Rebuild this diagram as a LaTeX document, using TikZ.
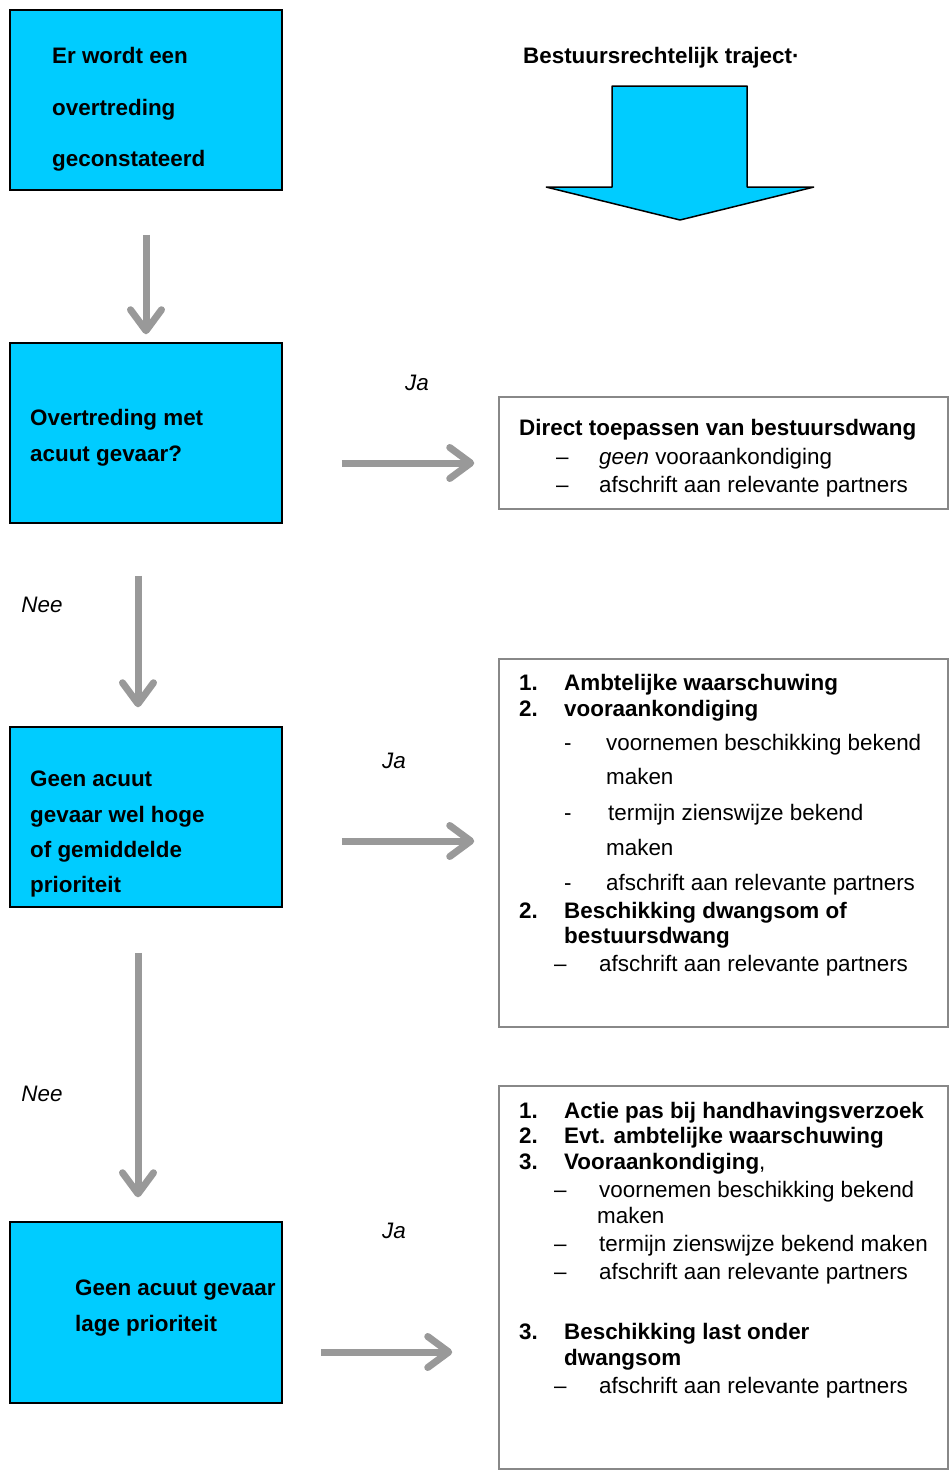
\documentclass[tikz,border=0pt]{standalone}
\usepackage{fontspec}
\setmainfont{Liberation Sans}
\usepackage{xcolor}
\usepackage{tikz}
\usetikzlibrary{arrows.meta}
\definecolor{flowBlue}{RGB}{0,204,255}
\definecolor{flowGrey}{RGB}{153,153,153}
\definecolor{frameGrey}{RGB}{136,136,136}
\tikzstyle{tsText} = [
    text=black,
    font=\fontsize{22.4}{28}\selectfont,
    inner sep=0pt,
    anchor=base west
]
\tikzstyle{tsBold} = [
    tsText,
    font=\fontsize{22.4}{28}\selectfont\bfseries
]
\tikzstyle{tsLabel} = [
    tsText,
    font=\fontsize{22.4}{28}\selectfont\itshape,
    anchor=base
]
\tikzstyle{tsBlueBox} = [
    rectangle,
    draw=black,
    fill=flowBlue,
    line width=1.5pt,
    inner sep=0pt,
    minimum width=272pt,
    minimum height=180pt
]
\tikzstyle{tsGreyBox} = [
    rectangle,
    draw=frameGrey,
    line width=1.5pt,
    inner sep=0pt,
    minimum width=449pt
]
\tikzstyle{tsFlow} = [
    draw=flowGrey,
    line width=7pt,
    -{Straight Barb[length=21pt,width=31pt,line cap=round,line join=round]}
]

\begin{document}
\begin{tikzpicture}[x=1pt, y=-1pt]

        \useasboundingbox (0,0) rectangle (950,1470);

        % blue boxes on the left
        \node[tsBlueBox] (obs) at (146,100) { };
        \node[tsBlueBox] (qAcuut) at (146,433) { };
        \node[tsBlueBox] (qHoog) at (146,817) { };
        \node[tsBlueBox, minimum height=181pt] (qLaag) at (146,1312.5) { };

        \node[tsBold] (obsA) at (52,63) {Er wordt een};
        \node[tsBold] (obsB) at (52,115) {overtreding};
        \node[tsBold] (obsC) at (52,166) {geconstateerd};

        \node[tsBold] (qAcuutA) at (30,425) {Overtreding met};
        \node[tsBold] (qAcuutB) at (30,461) {acuut gevaar?};

        \node[tsBold] (qHoogA) at (30,786) {Geen acuut};
        \node[tsBold] (qHoogB) at (30,822) {gevaar wel hoge};
        \node[tsBold] (qHoogC) at (30,857) {of gemiddelde};
        \node[tsBold] (qHoogD) at (30,892) {prioriteit};

        \node[tsBold] (qLaagA) at (75,1295) {Geen acuut gevaar};
        \node[tsBold] (qLaagB) at (75,1331) {lage prioriteit};

        % title and big arrow
        \node[tsBold] (title) at (523,63) {Bestuursrechtelijk traject\textperiodcentered};
        \draw[black, line width=1.5pt, fill=flowBlue, line join=bevel]
            (612,86) -- (747,86) -- (747,187) -- (814,187) -- (680,220)
            -- (546,187) -- (612,187) -- cycle;

        % grey boxes on the right
        \node[tsGreyBox, minimum height=112pt] (rDirect) at (723.5,453) { };
        \node[tsGreyBox, minimum height=368pt] (rHoog) at (723.5,843) { };
        \node[tsGreyBox, minimum height=383pt] (rLaag) at (723.5,1277.5) { };

        \node[tsBold] (rDirectA) at (519,435) {Direct toepassen van bestuursdwang};
        \node[tsText] (rDirectB) at (556,464) {--};
        \node[tsText] (rDirectC) at (599,464) {\textit{geen} vooraankondiging};
        \node[tsText] (rDirectD) at (556,492) {--};
        \node[tsText] (rDirectE) at (599,492) {afschrift aan relevante partners};

        \node[tsBold] (rHoogA) at (519,690) {1.};
        \node[tsBold] (rHoogB) at (564,690) {Ambtelijke waarschuwing};
        \node[tsBold] (rHoogC) at (519,716) {2.};
        \node[tsBold] (rHoogD) at (564,716) {vooraankondiging};
        \node[tsText] (rHoogE) at (564,750) {-};
        \node[tsText] (rHoogF) at (606,750) {voornemen beschikking bekend};
        \node[tsText] (rHoogG) at (606,784) {maken};
        \node[tsText] (rHoogH) at (564,820) {-};
        \node[tsText] (rHoogI) at (608,820) {termijn zienswijze bekend};
        \node[tsText] (rHoogJ) at (606,855) {maken};
        \node[tsText] (rHoogK) at (564,890) {-};
        \node[tsText] (rHoogL) at (606,890) {afschrift aan relevante partners};
        \node[tsBold] (rHoogM) at (519,918) {2.};
        \node[tsBold] (rHoogN) at (564,918) {Beschikking dwangsom of};
        \node[tsBold] (rHoogO) at (564,943) {bestuursdwang};
        \node[tsText] (rHoogP) at (554,971) {--};
        \node[tsText] (rHoogQ) at (599,971) {afschrift aan relevante partners};

        \node[tsBold] (rLaagA) at (519,1118) {1.};
        \node[tsBold] (rLaagB) at (564,1118) {Actie pas bij handhavingsverzoek};
        \node[tsBold] (rLaagC) at (519,1143) {2.};
        \node[tsBold] (rLaagD) at (564,1143) {Evt. ambtelijke waarschuwing};
        \node[tsBold] (rLaagE) at (519,1169) {3.};
        \node[tsText] (rLaagF) at (564,1169) {\textbf{Vooraankondiging},};
        \node[tsText] (rLaagG) at (554,1197) {--};
        \node[tsText] (rLaagH) at (599,1197) {voornemen beschikking bekend};
        \node[tsText] (rLaagI) at (597,1223) {maken};
        \node[tsText] (rLaagJ) at (554,1251) {--};
        \node[tsText] (rLaagK) at (599,1251) {termijn zienswijze bekend maken};
        \node[tsText] (rLaagL) at (554,1279) {--};
        \node[tsText] (rLaagM) at (599,1279) {afschrift aan relevante partners};
        \node[tsBold] (rLaagN) at (519,1339) {3.};
        \node[tsBold] (rLaagO) at (564,1339) {Beschikking last onder};
        \node[tsBold] (rLaagP) at (564,1365) {dwangsom};
        \node[tsText] (rLaagQ) at (554,1393) {--};
        \node[tsText] (rLaagR) at (599,1393) {afschrift aan relevante partners};

        % labels
        \node[tsLabel] (ja1) at (417,390) {Ja};
        \node[tsLabel] (ja2) at (394,768) {Ja};
        \node[tsLabel] (ja3) at (394,1238) {Ja};
        \node[tsLabel] (nee1) at (42,612) {Nee};
        \node[tsLabel] (nee2) at (42,1101) {Nee};

        % grey flow arrows
        \draw[tsFlow, shorten <=44pt, shorten >=8pt] (obs.south) -- (qAcuut.north);
        \draw[tsFlow, shorten <=52pt, shorten >=19pt]
            ([xshift=-8pt]qAcuut.south) -- ([xshift=-8pt]qHoog.north);
        \draw[tsFlow, shorten <=45pt, shorten >=24pt]
            ([xshift=-8pt]qHoog.south) -- ([xshift=-8pt]qLaag.north);
        \draw[tsFlow, shorten <=59pt, shorten >=24pt]
            ([yshift=-30pt]qAcuut.east) -- ([yshift=-10pt]rDirect.west);
        \draw[tsFlow, shorten <=59pt, shorten >=24pt]
            ([yshift=-24pt]qHoog.east) -- ([yshift=2pt]rHoog.west);
        \draw[tsFlow, shorten <=38pt, shorten >=46pt]
            ([yshift=-39.5pt]qLaag.east) -- ([yshift=-74.5pt]rLaag.west);

\end{tikzpicture}
\end{document}
